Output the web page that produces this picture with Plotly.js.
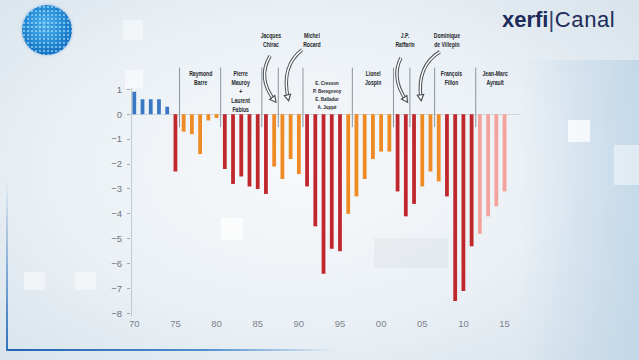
<!DOCTYPE html>
<html>
<head>
<meta charset="utf-8">
<script src="https://cdn.plot.ly/plotly-3.0.1.min.js"></script>
<style>
html,body{margin:0;padding:0;width:639px;height:360px;overflow:hidden;}
body{position:relative;background:
 radial-gradient(ellipse 420px 260px at 300px 170px, #f7f9fb 0%, #eaf0f5 60%, #d9e4ec 100%);}
.sq{position:absolute;background:rgba(255,255,255,0.75);}
#logo{position:absolute;left:22px;top:5px;width:50px;height:50px;border-radius:50%;
 background:
  radial-gradient(circle, rgba(190,235,255,0.55) 0 0.8px, rgba(0,0,0,0) 1.4px) 0 0/4px 4px,
  radial-gradient(circle, rgba(10,70,150,0.35) 0 0.8px, rgba(0,0,0,0) 1.4px) 2px 2px/5px 5px,
  radial-gradient(circle at 45% 40%, #55b6f0 0%, #2a93dc 40%, #1673c4 75%, #0f5fa6 100%);
 box-shadow:0 0 3px rgba(40,120,200,0.4);}
#brand{position:absolute;left:502px;top:7px;font-family:"Liberation Sans",Arial,sans-serif;font-size:22px;color:#1d2b5a;white-space:nowrap;letter-spacing:0.6px;}
#brand b{font-weight:bold;letter-spacing:0px;}
#frameB{position:absolute;left:6px;top:349px;width:330px;height:2px;background:linear-gradient(to right,#1f63b0,#4f8fd0 60%,rgba(120,170,220,0));}
#frameL{position:absolute;left:6px;top:180px;width:2px;height:171px;background:linear-gradient(to bottom,rgba(80,140,210,0),#2f72bd);}
#rightglow{position:absolute;left:520px;top:60px;width:119px;height:300px;background:linear-gradient(to right,rgba(200,220,236,0),rgba(185,210,230,0.7));}
#chart{position:absolute;left:0;top:0;width:639px;height:360px;}
#chart text.annotation-text{transform-box:fill-box;transform-origin:center;transform:scaleX(0.74);}
</style>
</head>
<body>
<div id="rightglow"></div>
<div class="sq" style="left:123px;top:20px;width:20px;height:20px;opacity:0.6"></div>
<div class="sq" style="left:125px;top:70px;width:18px;height:18px;opacity:0.7"></div>
<div class="sq" style="left:221px;top:218px;width:22px;height:22px;"></div>
<div class="sq" style="left:568px;top:120px;width:22px;height:22px;"></div>
<div class="sq" style="left:614px;top:145px;width:25px;height:40px;opacity:0.6"></div>
<div class="sq" style="left:24px;top:272px;width:21px;height:18px;opacity:0.6"></div>
<div class="sq" style="left:75px;top:272px;width:21px;height:18px;opacity:0.6"></div>
<div style="position:absolute;left:374px;top:238px;width:74px;height:30px;background:rgba(200,205,210,0.2)"></div>
<div id="frameB"></div>
<div id="frameL"></div>
<div id="logo"></div>
<div id="brand"><b>xerfi</b><span style="font-weight:300;color:#33436e">|</span>Canal</div>
<div id="chart"></div>
<script>
// ---- data ----
const years = [1970,1971,1972,1973,1974,1975,1976,1977,1978,1979,1980,1981,1982,1983,1984,1985,1986,1987,1988,1989,1990,1991,1992,1993,1994,1995,1996,1997,1998,1999,2000,2001,2002,2003,2004,2005,2006,2007,2008,2009,2010,2011,2012,2013,2014,2015];
const balance = [0.9,0.6,0.6,0.6,0.3,-2.3,-0.7,-0.8,-1.6,-0.25,-0.15,-2.2,-2.8,-2.5,-2.9,-3.0,-3.2,-2.1,-2.6,-1.8,-2.4,-2.9,-4.5,-6.4,-5.4,-5.5,-4.0,-3.3,-2.6,-1.8,-1.5,-1.5,-3.1,-4.1,-3.6,-2.9,-2.3,-2.7,-3.3,-7.5,-7.1,-5.3,-4.8,-4.1,-3.7,-3.1];
const barGroup = ['b','b','b','b','b','r','o','o','o','o','o','r','r','r','r','r','r','o','o','o','o','r','r','r','r','r','o','o','o','o','o','o','r','r','r','o','o','o','r','r','r','r','p','p','p','p'];
const groupColors = {b:'#3b78c4', r:'#c0272d', o:'#f08a24', p:'#f3a29c'};
const xTickVals = [1970,1975,1980,1985,1990,1995,2000,2005,2010,2015];
const xTickText = ['70','75','80','85','90','95','00','05','10','15'];
const yTickVals = [1,0,-1,-2,-3,-4,-5,-6,-7,-8];
const separators = [1975.5,1980.5,1985.5,1987.5,1990.5,1996.5,2001.5,2003.5,2006.5,2011.5];
const pmLabels = [
  {text:'Raymond<br>Barre', x:1978, y:1.85, size:6.9},
  {text:'Pierre<br>Mauroy<br>+<br>Laurent<br>Fabius', x:1983, y:1.85, size:6.9},
  {text:'E. Cresson<br>P. Beregovoy<br>E. Balladur<br>A. Juppé', x:1993.5, y:1.5, size:6.1},
  {text:'Lionel<br>Jospin', x:1999, y:1.85, size:6.9},
  {text:'François<br>Fillon', x:2008.6, y:1.85, size:6.9},
  {text:'Jean-Marc<br>Ayrault', x:2013.8, y:1.85, size:6.9},
  {text:'Jacques<br>Chirac', x:1986.6, y:3.36, size:6.9},
  {text:'Michel<br>Rocard', x:1991.6, y:3.36, size:6.9},
  {text:'J.P.<br>Raffarin', x:2002.9, y:3.36, size:6.9},
  {text:'Dominique<br>de Villepin', x:2008.0, y:3.36, size:6.9}
];

// ---- layout geometry ----
const W = 639, H = 360;
const xRange = [1969.6, 2017], yRange = [-8.1, 3.5];
const m = {l:130.7, r:117.7, t:27.2, b:44, pad:0};
const pw = W - m.l - m.r, ph = H - m.t - m.b;
const px2x = p => xRange[0] + (p - m.l) / pw * (xRange[1] - xRange[0]);
const py2y = p => yRange[1] - (p - m.t) / ph * (yRange[1] - yRange[0]);

const FONT = '"Liberation Sans",Arial,sans-serif';

const shapes = [];
// y axis line
shapes.push({type:'line', xref:'x', yref:'y', x0:xRange[0], x1:xRange[0], y0:-8.1, y1:1.05, line:{color:'#9aa3ab', width:1}});
// separators
separators.forEach(s => shapes.push({type:'line', xref:'x', yref:'y', x0:s, x1:s, y0:-0.52, y1:1.87, line:{color:'#8d959c', width:1}, layer:'above'}));

// curved arrows (pixel guides converted to data coords)
const arrowsPx = [
  [[270,56],[257,78],[274,100]],
  [[302,50],[281,66],[288,98]],
  [[401,58],[391,78],[406,100]],
  [[440,52],[417,66],[421,98]]
];
arrowsPx.forEach(a => {
  const [s,c,e] = a;
  const path = `M ${px2x(s[0])},${py2y(s[1])} Q ${px2x(c[0])},${py2y(c[1])} ${px2x(e[0])},${py2y(e[1])}`;
  shapes.push({type:'path', xref:'x', yref:'y', path, line:{color:'#4b5056', width:3.4}});
  shapes.push({type:'path', xref:'x', yref:'y', path, line:{color:'#ffffff', width:1.4}});
  let dx = e[0]-c[0], dy = e[1]-c[1]; const L = Math.hypot(dx,dy); dx/=L; dy/=L;
  const nx = -dy, ny = dx;
  const tip = [e[0]+dx*3, e[1]+dy*3];
  const b1 = [e[0]-dx*3+nx*3.2, e[1]-dy*3+ny*3.2];
  const b2 = [e[0]-dx*3-nx*3.2, e[1]-dy*3-ny*3.2];
  const tp = `M ${px2x(tip[0])},${py2y(tip[1])} L ${px2x(b1[0])},${py2y(b1[1])} L ${px2x(b2[0])},${py2y(b2[1])} Z`;
  shapes.push({type:'path', xref:'x', yref:'y', path:tp, fillcolor:'#ffffff', line:{color:'#4b5056', width:1.2}});
});

const annotations = pmLabels.map(l => ({
  text:'<b>'+l.text+'</b>', x:l.x, y:l.y, xref:'x', yref:'y', showarrow:false,
  xanchor:'center', yanchor:'top', align:'center',
  font:{family:FONT, size:l.size, color:'#25282c'}
}));

const trace = {
  type:'bar', x:years, y:balance, width:0.46,
  marker:{color:barGroup.map(g => groupColors[g]), line:{width:0}},
  hoverinfo:'x+y'
};

const layout = {
  width:W, height:H, margin:m,
  paper_bgcolor:'rgba(0,0,0,0)', plot_bgcolor:'rgba(0,0,0,0)',
  showlegend:false,
  xaxis:{range:xRange, showgrid:false, zeroline:false, showline:false,
    tickmode:'array', tickvals:xTickVals, ticktext:xTickText, ticks:'',
    tickfont:{family:FONT, size:9.5, color:'#7c848c'}},
  yaxis:{range:yRange, showgrid:false, zeroline:true, zerolinecolor:'#cdd4da', zerolinewidth:1,
    showline:false, tickmode:'array', tickvals:yTickVals, ticks:'outside', ticklen:3,
    tickcolor:'#a3abb2', ticklabelstandoff:3,
    tickfont:{family:FONT, size:9.5, color:'#6c747c'}},
  shapes, annotations
};

Plotly.newPlot('chart', [trace], layout, {staticPlot:true, displayModeBar:false});
</script>
</body>
</html>
